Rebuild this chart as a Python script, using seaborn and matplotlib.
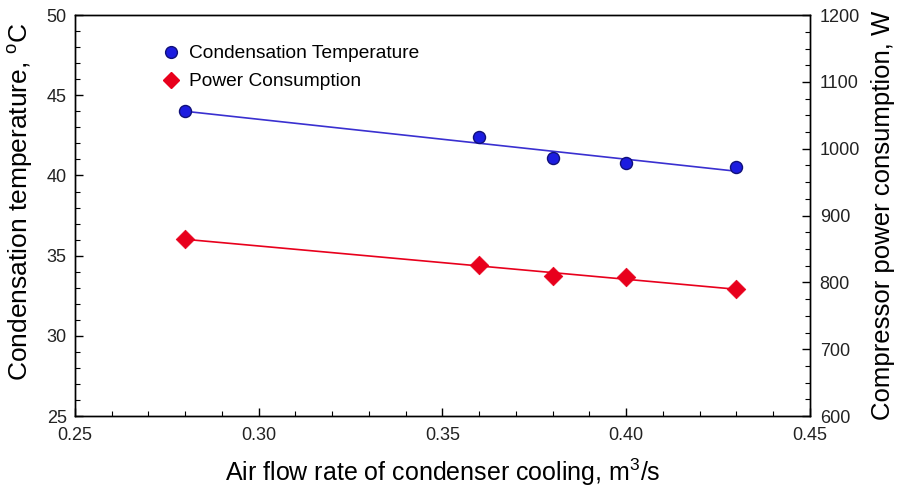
import numpy as np
import pandas as pd
import matplotlib
matplotlib.use("Agg")
import matplotlib.pyplot as plt
from matplotlib.ticker import MultipleLocator
from matplotlib.lines import Line2D
import seaborn as sns

# Data
airflow = [0.28, 0.36, 0.38, 0.40, 0.43]
cond_temp = [44.0, 42.4, 41.1, 40.8, 40.5]
power = [865, 826, 809, 808, 790]
series_names = ["Condensation Temperature", "Power Consumption"]

sns.set_theme(style="white")
plt.rcParams["font.family"] = ["Liberation Sans", "DejaVu Sans"]
plt.rcParams["mathtext.fontset"] = "custom"
plt.rcParams["mathtext.rm"] = "Liberation Sans"
plt.rcParams["mathtext.it"] = "Liberation Sans:italic"
plt.rcParams["text.color"] = "black"
plt.rcParams["axes.labelcolor"] = "black"

df = pd.DataFrame({"x": airflow, "t": cond_temp, "p": power})

fig = plt.figure(figsize=(8.98, 4.88), dpi=100)
ax = fig.add_axes([0.0835, 0.1475, 0.8185, 0.8215])
ax2 = ax.twinx()

blue_face = "#1c1ce0"
blue_edge = "#10107a"
blue_line = "#3a30d0"
red = "#e8001c"

sns.regplot(data=df, x="x", y="t", ax=ax, scatter=False, ci=None, truncate=True,
            line_kws=dict(color=blue_line, lw=1.2))
sns.scatterplot(data=df, x="x", y="t", ax=ax, s=75, color=blue_face,
                edgecolor=blue_edge, linewidth=1.0, marker="o", zorder=5)

sns.regplot(data=df, x="x", y="p", ax=ax2, scatter=False, ci=None, truncate=True,
            line_kws=dict(color=red, lw=1.2))
sns.scatterplot(data=df, x="x", y="p", ax=ax2, s=90, color=red,
                edgecolor=red, linewidth=0.5, marker="D", zorder=5)

ax.set_xlim(0.25, 0.45)
ax.set_ylim(25, 50)
ax2.set_ylim(600, 1200)

ax.xaxis.set_major_locator(MultipleLocator(0.05))
ax.xaxis.set_minor_locator(MultipleLocator(0.01))
ax.yaxis.set_major_locator(MultipleLocator(5))
ax.yaxis.set_minor_locator(MultipleLocator(1))
ax2.yaxis.set_major_locator(MultipleLocator(100))
ax2.yaxis.set_minor_locator(MultipleLocator(25))
ax.xaxis.set_major_formatter(matplotlib.ticker.FormatStrFormatter("%.2f"))

for a in (ax, ax2):
    for s in a.spines.values():
        s.set_color("black")
        s.set_linewidth(1.0)
    a.tick_params(which="both", direction="in", colors="black", labelcolor="#222222",
                  labelsize=13)
    a.tick_params(which="major", length=6, width=1.0)
    a.tick_params(which="minor", length=3.5, width=0.8)
ax.tick_params(axis="x", which="both", top=False, bottom=True, pad=8)
ax.tick_params(axis="y", which="both", left=True, right=False, pad=6)
ax2.tick_params(axis="y", which="both", right=True, left=False, pad=7)

ax.set_xlabel("Air flow rate of condenser cooling, m$^3$/s", fontsize=18, labelpad=9)
ax.set_ylabel("Condensation temperature, $^{\\rm o}$C", fontsize=19)
ax.yaxis.set_label_coords(-0.054, 0.535)
ax2.set_ylabel("Compressor power consumption, W", fontsize=18.5, labelpad=8)

handles = [
    Line2D([], [], ls="none", marker="o", markersize=8.5, markerfacecolor=blue_face,
           markeredgecolor=blue_edge, markeredgewidth=1.0),
    Line2D([], [], ls="none", marker="D", markersize=8, markerfacecolor=red,
           markeredgecolor=red),
]
ax.legend(handles, series_names, loc="upper left", bbox_to_anchor=(0.104, 0.945),
          frameon=False, fontsize=13.8, handletextpad=0.35, labelspacing=0.55,
          borderaxespad=0, handlelength=1.2)

fig.savefig("out.png", dpi=100)
